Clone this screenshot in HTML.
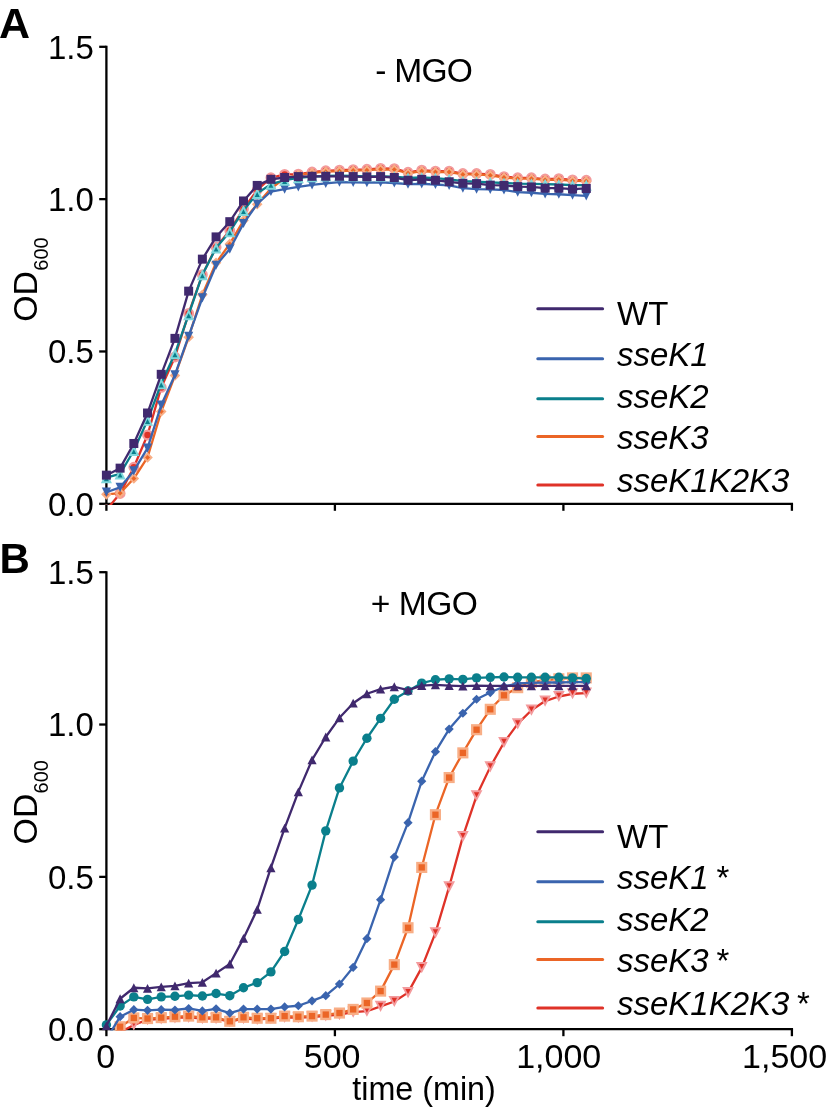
<!DOCTYPE html><html><head><meta charset="utf-8"><style>html,body{margin:0;padding:0;background:#fff;}svg{display:block;will-change:transform;}</style></head><body><svg width="827" height="1112" viewBox="0 0 827 1112">
<rect width="827" height="1112" fill="#fff"/>
<defs><clipPath id="ca"><rect x="0" y="0" width="827" height="505.0"/></clipPath><clipPath id="cb"><rect x="0" y="530" width="827" height="500.4000000000001"/></clipPath></defs>
<text x="-1" y="38.2" font-size="43" font-weight="bold" font-family="'Liberation Sans', sans-serif">A</text>
<text x="-0.5" y="573" font-size="42" font-weight="bold" font-family="'Liberation Sans', sans-serif">B</text>
<text x="375.3" y="82.4" font-size="33.6" letter-spacing="-0.8" font-family="'Liberation Sans', sans-serif">- MGO</text>
<text x="370.8" y="615.1" font-size="33.6" letter-spacing="-0.5" font-family="'Liberation Sans', sans-serif">+ MGO</text>
<path d="M106.4 46.8 V503.8 H791.9" fill="none" stroke="#000" stroke-width="2.3" stroke-linecap="square"/>
<line x1="99.2" y1="503.80" x2="106.4" y2="503.80" stroke="#000" stroke-width="2.3"/>
<text x="93.8" y="515.70" font-size="33" text-anchor="end" font-family="'Liberation Sans', sans-serif">0.0</text>
<line x1="99.2" y1="351.47" x2="106.4" y2="351.47" stroke="#000" stroke-width="2.3"/>
<text x="93.8" y="363.37" font-size="33" text-anchor="end" font-family="'Liberation Sans', sans-serif">0.5</text>
<line x1="99.2" y1="199.13" x2="106.4" y2="199.13" stroke="#000" stroke-width="2.3"/>
<text x="93.8" y="211.03" font-size="33" text-anchor="end" font-family="'Liberation Sans', sans-serif">1.0</text>
<line x1="99.2" y1="46.80" x2="106.4" y2="46.80" stroke="#000" stroke-width="2.3"/>
<text x="93.8" y="58.70" font-size="33" text-anchor="end" font-family="'Liberation Sans', sans-serif">1.5</text>
<line x1="106.40" y1="503.8" x2="106.40" y2="510.8" stroke="#000" stroke-width="2.3"/>
<line x1="334.90" y1="503.8" x2="334.90" y2="510.8" stroke="#000" stroke-width="2.3"/>
<line x1="563.40" y1="503.8" x2="563.40" y2="510.8" stroke="#000" stroke-width="2.3"/>
<line x1="791.90" y1="503.8" x2="791.90" y2="510.8" stroke="#000" stroke-width="2.3"/>
<path d="M106.4 572.3 V1029.2 H791.9" fill="none" stroke="#000" stroke-width="2.3" stroke-linecap="square"/>
<line x1="99.2" y1="1029.20" x2="106.4" y2="1029.20" stroke="#000" stroke-width="2.3"/>
<text x="93.8" y="1041.10" font-size="33" text-anchor="end" font-family="'Liberation Sans', sans-serif">0.0</text>
<line x1="99.2" y1="876.87" x2="106.4" y2="876.87" stroke="#000" stroke-width="2.3"/>
<text x="93.8" y="888.77" font-size="33" text-anchor="end" font-family="'Liberation Sans', sans-serif">0.5</text>
<line x1="99.2" y1="724.53" x2="106.4" y2="724.53" stroke="#000" stroke-width="2.3"/>
<text x="93.8" y="736.43" font-size="33" text-anchor="end" font-family="'Liberation Sans', sans-serif">1.0</text>
<line x1="99.2" y1="572.20" x2="106.4" y2="572.20" stroke="#000" stroke-width="2.3"/>
<text x="93.8" y="584.10" font-size="33" text-anchor="end" font-family="'Liberation Sans', sans-serif">1.5</text>
<line x1="106.40" y1="1029.2" x2="106.40" y2="1036.2" stroke="#000" stroke-width="2.3"/>
<line x1="334.90" y1="1029.2" x2="334.90" y2="1036.2" stroke="#000" stroke-width="2.3"/>
<line x1="563.40" y1="1029.2" x2="563.40" y2="1036.2" stroke="#000" stroke-width="2.3"/>
<line x1="791.90" y1="1029.2" x2="791.90" y2="1036.2" stroke="#000" stroke-width="2.3"/>
<text transform="translate(37.0,321.70) rotate(-90)" font-size="33.8" font-family="'Liberation Sans', sans-serif">OD<tspan font-size="20" dy="11.3" dx="0.3">600</tspan></text>
<text transform="translate(37.0,844.40) rotate(-90)" font-size="33.8" font-family="'Liberation Sans', sans-serif">OD<tspan font-size="20" dy="11.3" dx="0.3">600</tspan></text>
<text x="105.70" y="1068" font-size="34" text-anchor="middle" font-family="'Liberation Sans', sans-serif">0</text>
<text x="332.10" y="1068" font-size="34" text-anchor="middle" font-family="'Liberation Sans', sans-serif">500</text>
<text x="558.70" y="1068" font-size="34" text-anchor="middle" font-family="'Liberation Sans', sans-serif">1,000</text>
<text x="784.60" y="1068" font-size="34" text-anchor="middle" font-family="'Liberation Sans', sans-serif">1,500</text>
<text x="352.3" y="1100.4" font-size="32.3" font-family="'Liberation Sans', sans-serif">time (min)</text>
<line x1="537.8" y1="308.70" x2="602.6" y2="308.70" stroke="#40296E" stroke-width="3" stroke-linecap="round"/>
<text x="617" y="324.50" font-size="33" font-family="'Liberation Sans', sans-serif"><tspan>WT</tspan></text>
<line x1="537.8" y1="358.80" x2="602.6" y2="358.80" stroke="#3A64AE" stroke-width="3" stroke-linecap="round"/>
<text x="617" y="365.80" font-size="33" font-family="'Liberation Sans', sans-serif"><tspan font-style="italic">sseK1</tspan></text>
<line x1="537.8" y1="398.70" x2="602.6" y2="398.70" stroke="#0A7F8C" stroke-width="3" stroke-linecap="round"/>
<text x="617" y="407.60" font-size="33" font-family="'Liberation Sans', sans-serif"><tspan font-style="italic">sseK2</tspan></text>
<line x1="537.8" y1="436.50" x2="602.6" y2="436.50" stroke="#EB6526" stroke-width="3" stroke-linecap="round"/>
<text x="617" y="448.60" font-size="33" font-family="'Liberation Sans', sans-serif"><tspan font-style="italic">sseK3</tspan></text>
<line x1="537.8" y1="485.00" x2="602.6" y2="485.00" stroke="#DF3228" stroke-width="3" stroke-linecap="round"/>
<text x="617" y="491.60" font-size="33" font-family="'Liberation Sans', sans-serif"><tspan font-style="italic">sseK1K2K3</tspan></text>
<line x1="537.8" y1="831.70" x2="602.6" y2="831.70" stroke="#40296E" stroke-width="3" stroke-linecap="round"/>
<text x="617" y="847.50" font-size="33" font-family="'Liberation Sans', sans-serif"><tspan>WT</tspan></text>
<line x1="537.8" y1="881.80" x2="602.6" y2="881.80" stroke="#3A64AE" stroke-width="3" stroke-linecap="round"/>
<text x="617" y="888.80" font-size="33" font-family="'Liberation Sans', sans-serif"><tspan font-style="italic">sseK1</tspan><tspan font-style="normal" dx="-1.5"> *</tspan></text>
<line x1="537.8" y1="921.70" x2="602.6" y2="921.70" stroke="#0A7F8C" stroke-width="3" stroke-linecap="round"/>
<text x="617" y="930.60" font-size="33" font-family="'Liberation Sans', sans-serif"><tspan font-style="italic">sseK2</tspan></text>
<line x1="537.8" y1="959.50" x2="602.6" y2="959.50" stroke="#EB6526" stroke-width="3" stroke-linecap="round"/>
<text x="617" y="971.60" font-size="33" font-family="'Liberation Sans', sans-serif"><tspan font-style="italic">sseK3</tspan><tspan font-style="normal" dx="-1.5"> *</tspan></text>
<line x1="537.8" y1="1008.00" x2="602.6" y2="1008.00" stroke="#DF3228" stroke-width="3" stroke-linecap="round"/>
<text x="617" y="1014.60" font-size="33" font-family="'Liberation Sans', sans-serif"><tspan font-style="italic">sseK1K2K3</tspan><tspan font-style="normal" dx="-1.5"> *</tspan></text>
<g clip-path="url(#ca)">
<polyline points="106.40,509.89 120.11,493.44 133.82,467.24 147.53,434.95 161.24,387.42 174.95,356.95 188.66,313.38 202.37,274.69 216.08,247.27 229.79,230.51 243.50,208.88 257.21,189.99 270.92,177.81 284.63,174.46 298.34,174.15 312.05,172.02 325.76,170.80 339.47,170.19 353.18,169.58 366.89,169.28 380.60,168.36 394.31,168.67 408.02,172.32 421.73,170.19 435.44,171.10 449.15,171.10 462.86,173.54 476.57,173.54 490.28,174.46 503.99,176.59 517.70,177.81 531.41,177.81 545.12,179.03 558.83,178.72 572.54,179.94 586.25,180.24" fill="none" stroke="#DF3228" stroke-width="2.3" stroke-linejoin="round"/>
<circle cx="106.40" cy="509.89" r="4.35" fill="#DF3228" stroke="#F39A9C" stroke-width="2.2"/>
<circle cx="120.11" cy="493.44" r="4.35" fill="#DF3228" stroke="#F39A9C" stroke-width="2.2"/>
<circle cx="133.82" cy="467.24" r="4.35" fill="#DF3228" stroke="#F39A9C" stroke-width="2.2"/>
<circle cx="147.53" cy="434.95" r="4.35" fill="#DF3228" stroke="#F39A9C" stroke-width="2.2"/>
<circle cx="161.24" cy="387.42" r="4.35" fill="#DF3228" stroke="#F39A9C" stroke-width="2.2"/>
<circle cx="174.95" cy="356.95" r="4.35" fill="#DF3228" stroke="#F39A9C" stroke-width="2.2"/>
<circle cx="188.66" cy="313.38" r="4.35" fill="#DF3228" stroke="#F39A9C" stroke-width="2.2"/>
<circle cx="202.37" cy="274.69" r="4.35" fill="#DF3228" stroke="#F39A9C" stroke-width="2.2"/>
<circle cx="216.08" cy="247.27" r="4.35" fill="#DF3228" stroke="#F39A9C" stroke-width="2.2"/>
<circle cx="229.79" cy="230.51" r="4.35" fill="#DF3228" stroke="#F39A9C" stroke-width="2.2"/>
<circle cx="243.50" cy="208.88" r="4.35" fill="#DF3228" stroke="#F39A9C" stroke-width="2.2"/>
<circle cx="257.21" cy="189.99" r="4.35" fill="#DF3228" stroke="#F39A9C" stroke-width="2.2"/>
<circle cx="270.92" cy="177.81" r="4.35" fill="#DF3228" stroke="#F39A9C" stroke-width="2.2"/>
<circle cx="284.63" cy="174.46" r="4.35" fill="#DF3228" stroke="#F39A9C" stroke-width="2.2"/>
<circle cx="298.34" cy="174.15" r="4.35" fill="#DF3228" stroke="#F39A9C" stroke-width="2.2"/>
<circle cx="312.05" cy="172.02" r="4.35" fill="#DF3228" stroke="#F39A9C" stroke-width="2.2"/>
<circle cx="325.76" cy="170.80" r="4.35" fill="#DF3228" stroke="#F39A9C" stroke-width="2.2"/>
<circle cx="339.47" cy="170.19" r="4.35" fill="#DF3228" stroke="#F39A9C" stroke-width="2.2"/>
<circle cx="353.18" cy="169.58" r="4.35" fill="#DF3228" stroke="#F39A9C" stroke-width="2.2"/>
<circle cx="366.89" cy="169.28" r="4.35" fill="#DF3228" stroke="#F39A9C" stroke-width="2.2"/>
<circle cx="380.60" cy="168.36" r="4.35" fill="#DF3228" stroke="#F39A9C" stroke-width="2.2"/>
<circle cx="394.31" cy="168.67" r="4.35" fill="#DF3228" stroke="#F39A9C" stroke-width="2.2"/>
<circle cx="408.02" cy="172.32" r="4.35" fill="#DF3228" stroke="#F39A9C" stroke-width="2.2"/>
<circle cx="421.73" cy="170.19" r="4.35" fill="#DF3228" stroke="#F39A9C" stroke-width="2.2"/>
<circle cx="435.44" cy="171.10" r="4.35" fill="#DF3228" stroke="#F39A9C" stroke-width="2.2"/>
<circle cx="449.15" cy="171.10" r="4.35" fill="#DF3228" stroke="#F39A9C" stroke-width="2.2"/>
<circle cx="462.86" cy="173.54" r="4.35" fill="#DF3228" stroke="#F39A9C" stroke-width="2.2"/>
<circle cx="476.57" cy="173.54" r="4.35" fill="#DF3228" stroke="#F39A9C" stroke-width="2.2"/>
<circle cx="490.28" cy="174.46" r="4.35" fill="#DF3228" stroke="#F39A9C" stroke-width="2.2"/>
<circle cx="503.99" cy="176.59" r="4.35" fill="#DF3228" stroke="#F39A9C" stroke-width="2.2"/>
<circle cx="517.70" cy="177.81" r="4.35" fill="#DF3228" stroke="#F39A9C" stroke-width="2.2"/>
<circle cx="531.41" cy="177.81" r="4.35" fill="#DF3228" stroke="#F39A9C" stroke-width="2.2"/>
<circle cx="545.12" cy="179.03" r="4.35" fill="#DF3228" stroke="#F39A9C" stroke-width="2.2"/>
<circle cx="558.83" cy="178.72" r="4.35" fill="#DF3228" stroke="#F39A9C" stroke-width="2.2"/>
<circle cx="572.54" cy="179.94" r="4.35" fill="#DF3228" stroke="#F39A9C" stroke-width="2.2"/>
<circle cx="586.25" cy="180.24" r="4.35" fill="#DF3228" stroke="#F39A9C" stroke-width="2.2"/>
<polyline points="106.40,494.36 120.11,493.14 133.82,478.51 147.53,457.49 161.24,411.49 174.95,375.54 188.66,337.15 202.37,294.80 216.08,262.81 229.79,243.92 243.50,220.46 257.21,204.31 270.92,188.47 284.63,178.42 298.34,175.06 312.05,172.93 325.76,171.71 339.47,171.10 353.18,170.49 366.89,170.19 380.60,169.28 394.31,169.58 408.02,173.24 421.73,171.10 435.44,172.02 449.15,172.02 462.86,174.46 476.57,174.46 490.28,175.37 503.99,177.50 517.70,178.72 531.41,178.72 545.12,179.94 558.83,179.63 572.54,180.85 586.25,181.16" fill="none" stroke="#EB6526" stroke-width="2.3" stroke-linejoin="round"/>
<path d="M106.40 490.46L110.30 494.36L106.40 498.26L102.50 494.36Z" fill="#EB6526" stroke="#F8AE86" stroke-width="2.0"/>
<path d="M120.11 489.24L124.01 493.14L120.11 497.04L116.21 493.14Z" fill="#EB6526" stroke="#F8AE86" stroke-width="2.0"/>
<path d="M133.82 474.61L137.72 478.51L133.82 482.41L129.92 478.51Z" fill="#EB6526" stroke="#F8AE86" stroke-width="2.0"/>
<path d="M147.53 453.59L151.43 457.49L147.53 461.39L143.63 457.49Z" fill="#EB6526" stroke="#F8AE86" stroke-width="2.0"/>
<path d="M161.24 407.59L165.14 411.49L161.24 415.39L157.34 411.49Z" fill="#EB6526" stroke="#F8AE86" stroke-width="2.0"/>
<path d="M174.95 371.64L178.85 375.54L174.95 379.44L171.05 375.54Z" fill="#EB6526" stroke="#F8AE86" stroke-width="2.0"/>
<path d="M188.66 333.25L192.56 337.15L188.66 341.05L184.76 337.15Z" fill="#EB6526" stroke="#F8AE86" stroke-width="2.0"/>
<path d="M202.37 290.90L206.27 294.80L202.37 298.70L198.47 294.80Z" fill="#EB6526" stroke="#F8AE86" stroke-width="2.0"/>
<path d="M216.08 258.91L219.98 262.81L216.08 266.71L212.18 262.81Z" fill="#EB6526" stroke="#F8AE86" stroke-width="2.0"/>
<path d="M229.79 240.02L233.69 243.92L229.79 247.82L225.89 243.92Z" fill="#EB6526" stroke="#F8AE86" stroke-width="2.0"/>
<path d="M243.50 216.56L247.40 220.46L243.50 224.36L239.60 220.46Z" fill="#EB6526" stroke="#F8AE86" stroke-width="2.0"/>
<path d="M257.21 200.41L261.11 204.31L257.21 208.21L253.31 204.31Z" fill="#EB6526" stroke="#F8AE86" stroke-width="2.0"/>
<path d="M270.92 184.57L274.82 188.47L270.92 192.37L267.02 188.47Z" fill="#EB6526" stroke="#F8AE86" stroke-width="2.0"/>
<path d="M284.63 174.52L288.53 178.42L284.63 182.32L280.73 178.42Z" fill="#EB6526" stroke="#F8AE86" stroke-width="2.0"/>
<path d="M298.34 171.16L302.24 175.06L298.34 178.96L294.44 175.06Z" fill="#EB6526" stroke="#F8AE86" stroke-width="2.0"/>
<path d="M312.05 169.03L315.95 172.93L312.05 176.83L308.15 172.93Z" fill="#EB6526" stroke="#F8AE86" stroke-width="2.0"/>
<path d="M325.76 167.81L329.66 171.71L325.76 175.61L321.86 171.71Z" fill="#EB6526" stroke="#F8AE86" stroke-width="2.0"/>
<path d="M339.47 167.20L343.37 171.10L339.47 175.00L335.57 171.10Z" fill="#EB6526" stroke="#F8AE86" stroke-width="2.0"/>
<path d="M353.18 166.59L357.08 170.49L353.18 174.39L349.28 170.49Z" fill="#EB6526" stroke="#F8AE86" stroke-width="2.0"/>
<path d="M366.89 166.29L370.79 170.19L366.89 174.09L362.99 170.19Z" fill="#EB6526" stroke="#F8AE86" stroke-width="2.0"/>
<path d="M380.60 165.38L384.50 169.28L380.60 173.18L376.70 169.28Z" fill="#EB6526" stroke="#F8AE86" stroke-width="2.0"/>
<path d="M394.31 165.68L398.21 169.58L394.31 173.48L390.41 169.58Z" fill="#EB6526" stroke="#F8AE86" stroke-width="2.0"/>
<path d="M408.02 169.34L411.92 173.24L408.02 177.14L404.12 173.24Z" fill="#EB6526" stroke="#F8AE86" stroke-width="2.0"/>
<path d="M421.73 167.20L425.63 171.10L421.73 175.00L417.83 171.10Z" fill="#EB6526" stroke="#F8AE86" stroke-width="2.0"/>
<path d="M435.44 168.12L439.34 172.02L435.44 175.92L431.54 172.02Z" fill="#EB6526" stroke="#F8AE86" stroke-width="2.0"/>
<path d="M449.15 168.12L453.05 172.02L449.15 175.92L445.25 172.02Z" fill="#EB6526" stroke="#F8AE86" stroke-width="2.0"/>
<path d="M462.86 170.56L466.76 174.46L462.86 178.36L458.96 174.46Z" fill="#EB6526" stroke="#F8AE86" stroke-width="2.0"/>
<path d="M476.57 170.56L480.47 174.46L476.57 178.36L472.67 174.46Z" fill="#EB6526" stroke="#F8AE86" stroke-width="2.0"/>
<path d="M490.28 171.47L494.18 175.37L490.28 179.27L486.38 175.37Z" fill="#EB6526" stroke="#F8AE86" stroke-width="2.0"/>
<path d="M503.99 173.60L507.89 177.50L503.99 181.40L500.09 177.50Z" fill="#EB6526" stroke="#F8AE86" stroke-width="2.0"/>
<path d="M517.70 174.82L521.60 178.72L517.70 182.62L513.80 178.72Z" fill="#EB6526" stroke="#F8AE86" stroke-width="2.0"/>
<path d="M531.41 174.82L535.31 178.72L531.41 182.62L527.51 178.72Z" fill="#EB6526" stroke="#F8AE86" stroke-width="2.0"/>
<path d="M545.12 176.04L549.02 179.94L545.12 183.84L541.22 179.94Z" fill="#EB6526" stroke="#F8AE86" stroke-width="2.0"/>
<path d="M558.83 175.73L562.73 179.63L558.83 183.53L554.93 179.63Z" fill="#EB6526" stroke="#F8AE86" stroke-width="2.0"/>
<path d="M572.54 176.95L576.44 180.85L572.54 184.75L568.64 180.85Z" fill="#EB6526" stroke="#F8AE86" stroke-width="2.0"/>
<path d="M586.25 177.26L590.15 181.16L586.25 185.06L582.35 181.16Z" fill="#EB6526" stroke="#F8AE86" stroke-width="2.0"/>
<polyline points="106.40,492.22 120.11,487.35 133.82,470.90 147.53,448.05 161.24,405.09 174.95,374.93 188.66,336.23 202.37,297.85 216.08,265.25 229.79,249.10 243.50,223.51 257.21,204.01 270.92,191.52 284.63,189.08 298.34,186.95 312.05,184.81 325.76,183.29 339.47,182.07 353.18,182.38 366.89,182.68 380.60,182.38 394.31,182.99 408.02,184.20 421.73,183.90 435.44,184.51 449.15,185.42 462.86,188.17 476.57,189.08 490.28,189.38 503.99,189.99 517.70,192.13 531.41,192.74 545.12,193.95 558.83,194.26 572.54,195.17 586.25,195.78" fill="none" stroke="#3A64AE" stroke-width="2.3" stroke-linejoin="round"/>
<path d="M106.40 496.82L111.00 487.62L101.80 487.62Z" fill="#3A64AE"/>
<path d="M120.11 491.95L124.71 482.75L115.51 482.75Z" fill="#3A64AE"/>
<path d="M133.82 475.50L138.42 466.30L129.22 466.30Z" fill="#3A64AE"/>
<path d="M147.53 452.65L152.13 443.45L142.93 443.45Z" fill="#3A64AE"/>
<path d="M161.24 409.69L165.84 400.49L156.64 400.49Z" fill="#3A64AE"/>
<path d="M174.95 379.53L179.55 370.33L170.35 370.33Z" fill="#3A64AE"/>
<path d="M188.66 340.83L193.26 331.63L184.06 331.63Z" fill="#3A64AE"/>
<path d="M202.37 302.45L206.97 293.25L197.77 293.25Z" fill="#3A64AE"/>
<path d="M216.08 269.85L220.68 260.65L211.48 260.65Z" fill="#3A64AE"/>
<path d="M229.79 253.70L234.39 244.50L225.19 244.50Z" fill="#3A64AE"/>
<path d="M243.50 228.11L248.10 218.91L238.90 218.91Z" fill="#3A64AE"/>
<path d="M257.21 208.61L261.81 199.41L252.61 199.41Z" fill="#3A64AE"/>
<path d="M270.92 196.12L275.52 186.92L266.32 186.92Z" fill="#3A64AE"/>
<path d="M284.63 193.68L289.23 184.48L280.03 184.48Z" fill="#3A64AE"/>
<path d="M298.34 191.55L302.94 182.35L293.74 182.35Z" fill="#3A64AE"/>
<path d="M312.05 189.41L316.65 180.21L307.45 180.21Z" fill="#3A64AE"/>
<path d="M325.76 187.89L330.36 178.69L321.16 178.69Z" fill="#3A64AE"/>
<path d="M339.47 186.67L344.07 177.47L334.87 177.47Z" fill="#3A64AE"/>
<path d="M353.18 186.98L357.78 177.78L348.58 177.78Z" fill="#3A64AE"/>
<path d="M366.89 187.28L371.49 178.08L362.29 178.08Z" fill="#3A64AE"/>
<path d="M380.60 186.98L385.20 177.78L376.00 177.78Z" fill="#3A64AE"/>
<path d="M394.31 187.59L398.91 178.39L389.71 178.39Z" fill="#3A64AE"/>
<path d="M408.02 188.80L412.62 179.60L403.42 179.60Z" fill="#3A64AE"/>
<path d="M421.73 188.50L426.33 179.30L417.13 179.30Z" fill="#3A64AE"/>
<path d="M435.44 189.11L440.04 179.91L430.84 179.91Z" fill="#3A64AE"/>
<path d="M449.15 190.02L453.75 180.82L444.55 180.82Z" fill="#3A64AE"/>
<path d="M462.86 192.77L467.46 183.57L458.26 183.57Z" fill="#3A64AE"/>
<path d="M476.57 193.68L481.17 184.48L471.97 184.48Z" fill="#3A64AE"/>
<path d="M490.28 193.98L494.88 184.78L485.68 184.78Z" fill="#3A64AE"/>
<path d="M503.99 194.59L508.59 185.39L499.39 185.39Z" fill="#3A64AE"/>
<path d="M517.70 196.73L522.30 187.53L513.10 187.53Z" fill="#3A64AE"/>
<path d="M531.41 197.34L536.01 188.14L526.81 188.14Z" fill="#3A64AE"/>
<path d="M545.12 198.55L549.72 189.35L540.52 189.35Z" fill="#3A64AE"/>
<path d="M558.83 198.86L563.43 189.66L554.23 189.66Z" fill="#3A64AE"/>
<path d="M572.54 199.77L577.14 190.57L567.94 190.57Z" fill="#3A64AE"/>
<path d="M586.25 200.38L590.85 191.18L581.65 191.18Z" fill="#3A64AE"/>
<polyline points="106.40,477.60 120.11,473.94 133.82,450.48 147.53,420.32 161.24,383.76 174.95,353.60 188.66,314.60 202.37,274.69 216.08,247.88 229.79,231.73 243.50,210.41 257.21,193.34 270.92,184.20 284.63,180.24 298.34,177.81 312.05,176.59 325.76,175.98 339.47,175.67 353.18,175.98 366.89,176.28 380.60,176.28 394.31,176.59 408.02,177.81 421.73,177.50 435.44,178.11 449.15,179.33 462.86,181.16 476.57,181.77 490.28,182.38 503.99,182.99 517.70,183.60 531.41,183.90 545.12,184.20 558.83,184.51 572.54,185.12 586.25,185.12" fill="none" stroke="#0A7F8C" stroke-width="2.3" stroke-linejoin="round"/>
<path d="M106.40 474.19L110.40 482.19L102.40 482.19Z" fill="#0A7F8C" stroke="#7FD8DC" stroke-width="1.9"/>
<path d="M120.11 470.53L124.11 478.53L116.11 478.53Z" fill="#0A7F8C" stroke="#7FD8DC" stroke-width="1.9"/>
<path d="M133.82 447.07L137.82 455.07L129.82 455.07Z" fill="#0A7F8C" stroke="#7FD8DC" stroke-width="1.9"/>
<path d="M147.53 416.91L151.53 424.91L143.53 424.91Z" fill="#0A7F8C" stroke="#7FD8DC" stroke-width="1.9"/>
<path d="M161.24 380.35L165.24 388.35L157.24 388.35Z" fill="#0A7F8C" stroke="#7FD8DC" stroke-width="1.9"/>
<path d="M174.95 350.19L178.95 358.19L170.95 358.19Z" fill="#0A7F8C" stroke="#7FD8DC" stroke-width="1.9"/>
<path d="M188.66 311.19L192.66 319.19L184.66 319.19Z" fill="#0A7F8C" stroke="#7FD8DC" stroke-width="1.9"/>
<path d="M202.37 271.28L206.37 279.28L198.37 279.28Z" fill="#0A7F8C" stroke="#7FD8DC" stroke-width="1.9"/>
<path d="M216.08 244.47L220.08 252.47L212.08 252.47Z" fill="#0A7F8C" stroke="#7FD8DC" stroke-width="1.9"/>
<path d="M229.79 228.32L233.79 236.32L225.79 236.32Z" fill="#0A7F8C" stroke="#7FD8DC" stroke-width="1.9"/>
<path d="M243.50 206.99L247.50 214.99L239.50 214.99Z" fill="#0A7F8C" stroke="#7FD8DC" stroke-width="1.9"/>
<path d="M257.21 189.93L261.21 197.93L253.21 197.93Z" fill="#0A7F8C" stroke="#7FD8DC" stroke-width="1.9"/>
<path d="M270.92 180.79L274.92 188.79L266.92 188.79Z" fill="#0A7F8C" stroke="#7FD8DC" stroke-width="1.9"/>
<path d="M284.63 176.83L288.63 184.83L280.63 184.83Z" fill="#0A7F8C" stroke="#7FD8DC" stroke-width="1.9"/>
<path d="M298.34 174.39L302.34 182.39L294.34 182.39Z" fill="#0A7F8C" stroke="#7FD8DC" stroke-width="1.9"/>
<path d="M312.05 173.18L316.05 181.18L308.05 181.18Z" fill="#0A7F8C" stroke="#7FD8DC" stroke-width="1.9"/>
<path d="M325.76 172.57L329.76 180.57L321.76 180.57Z" fill="#0A7F8C" stroke="#7FD8DC" stroke-width="1.9"/>
<path d="M339.47 172.26L343.47 180.26L335.47 180.26Z" fill="#0A7F8C" stroke="#7FD8DC" stroke-width="1.9"/>
<path d="M353.18 172.57L357.18 180.57L349.18 180.57Z" fill="#0A7F8C" stroke="#7FD8DC" stroke-width="1.9"/>
<path d="M366.89 172.87L370.89 180.87L362.89 180.87Z" fill="#0A7F8C" stroke="#7FD8DC" stroke-width="1.9"/>
<path d="M380.60 172.87L384.60 180.87L376.60 180.87Z" fill="#0A7F8C" stroke="#7FD8DC" stroke-width="1.9"/>
<path d="M394.31 173.18L398.31 181.18L390.31 181.18Z" fill="#0A7F8C" stroke="#7FD8DC" stroke-width="1.9"/>
<path d="M408.02 174.39L412.02 182.39L404.02 182.39Z" fill="#0A7F8C" stroke="#7FD8DC" stroke-width="1.9"/>
<path d="M421.73 174.09L425.73 182.09L417.73 182.09Z" fill="#0A7F8C" stroke="#7FD8DC" stroke-width="1.9"/>
<path d="M435.44 174.70L439.44 182.70L431.44 182.70Z" fill="#0A7F8C" stroke="#7FD8DC" stroke-width="1.9"/>
<path d="M449.15 175.92L453.15 183.92L445.15 183.92Z" fill="#0A7F8C" stroke="#7FD8DC" stroke-width="1.9"/>
<path d="M462.86 177.75L466.86 185.75L458.86 185.75Z" fill="#0A7F8C" stroke="#7FD8DC" stroke-width="1.9"/>
<path d="M476.57 178.35L480.57 186.35L472.57 186.35Z" fill="#0A7F8C" stroke="#7FD8DC" stroke-width="1.9"/>
<path d="M490.28 178.96L494.28 186.96L486.28 186.96Z" fill="#0A7F8C" stroke="#7FD8DC" stroke-width="1.9"/>
<path d="M503.99 179.57L507.99 187.57L499.99 187.57Z" fill="#0A7F8C" stroke="#7FD8DC" stroke-width="1.9"/>
<path d="M517.70 180.18L521.70 188.18L513.70 188.18Z" fill="#0A7F8C" stroke="#7FD8DC" stroke-width="1.9"/>
<path d="M531.41 180.49L535.41 188.49L527.41 188.49Z" fill="#0A7F8C" stroke="#7FD8DC" stroke-width="1.9"/>
<path d="M545.12 180.79L549.12 188.79L541.12 188.79Z" fill="#0A7F8C" stroke="#7FD8DC" stroke-width="1.9"/>
<path d="M558.83 181.10L562.83 189.10L554.83 189.10Z" fill="#0A7F8C" stroke="#7FD8DC" stroke-width="1.9"/>
<path d="M572.54 181.71L576.54 189.71L568.54 189.71Z" fill="#0A7F8C" stroke="#7FD8DC" stroke-width="1.9"/>
<path d="M586.25 181.71L590.25 189.71L582.25 189.71Z" fill="#0A7F8C" stroke="#7FD8DC" stroke-width="1.9"/>
<polyline points="106.40,475.16 120.11,468.15 133.82,443.48 147.53,413.01 161.24,374.32 174.95,338.37 188.66,291.14 202.37,259.15 216.08,236.91 229.79,221.68 243.50,200.96 257.21,185.42 270.92,179.33 284.63,177.50 298.34,176.59 312.05,176.28 325.76,176.28 339.47,176.28 353.18,176.59 366.89,176.89 380.60,176.59 394.31,177.50 408.02,180.24 421.73,179.33 435.44,180.24 449.15,181.77 462.86,183.29 476.57,183.60 490.28,185.12 503.99,185.42 517.70,186.64 531.41,186.95 545.12,188.17 558.83,188.17 572.54,189.08 586.25,188.47" fill="none" stroke="#40296E" stroke-width="2.3" stroke-linejoin="round"/>
<rect x="101.90" y="470.66" width="9.00" height="9.00" fill="#40296E"/>
<rect x="115.61" y="463.65" width="9.00" height="9.00" fill="#40296E"/>
<rect x="129.32" y="438.98" width="9.00" height="9.00" fill="#40296E"/>
<rect x="143.03" y="408.51" width="9.00" height="9.00" fill="#40296E"/>
<rect x="156.74" y="369.82" width="9.00" height="9.00" fill="#40296E"/>
<rect x="170.45" y="333.87" width="9.00" height="9.00" fill="#40296E"/>
<rect x="184.16" y="286.64" width="9.00" height="9.00" fill="#40296E"/>
<rect x="197.87" y="254.65" width="9.00" height="9.00" fill="#40296E"/>
<rect x="211.58" y="232.41" width="9.00" height="9.00" fill="#40296E"/>
<rect x="225.29" y="217.18" width="9.00" height="9.00" fill="#40296E"/>
<rect x="239.00" y="196.46" width="9.00" height="9.00" fill="#40296E"/>
<rect x="252.71" y="180.92" width="9.00" height="9.00" fill="#40296E"/>
<rect x="266.42" y="174.83" width="9.00" height="9.00" fill="#40296E"/>
<rect x="280.13" y="173.00" width="9.00" height="9.00" fill="#40296E"/>
<rect x="293.84" y="172.09" width="9.00" height="9.00" fill="#40296E"/>
<rect x="307.55" y="171.78" width="9.00" height="9.00" fill="#40296E"/>
<rect x="321.26" y="171.78" width="9.00" height="9.00" fill="#40296E"/>
<rect x="334.97" y="171.78" width="9.00" height="9.00" fill="#40296E"/>
<rect x="348.68" y="172.09" width="9.00" height="9.00" fill="#40296E"/>
<rect x="362.39" y="172.39" width="9.00" height="9.00" fill="#40296E"/>
<rect x="376.10" y="172.09" width="9.00" height="9.00" fill="#40296E"/>
<rect x="389.81" y="173.00" width="9.00" height="9.00" fill="#40296E"/>
<rect x="403.52" y="175.74" width="9.00" height="9.00" fill="#40296E"/>
<rect x="417.23" y="174.83" width="9.00" height="9.00" fill="#40296E"/>
<rect x="430.94" y="175.74" width="9.00" height="9.00" fill="#40296E"/>
<rect x="444.65" y="177.27" width="9.00" height="9.00" fill="#40296E"/>
<rect x="458.36" y="178.79" width="9.00" height="9.00" fill="#40296E"/>
<rect x="472.07" y="179.10" width="9.00" height="9.00" fill="#40296E"/>
<rect x="485.78" y="180.62" width="9.00" height="9.00" fill="#40296E"/>
<rect x="499.49" y="180.92" width="9.00" height="9.00" fill="#40296E"/>
<rect x="513.20" y="182.14" width="9.00" height="9.00" fill="#40296E"/>
<rect x="526.91" y="182.45" width="9.00" height="9.00" fill="#40296E"/>
<rect x="540.62" y="183.67" width="9.00" height="9.00" fill="#40296E"/>
<rect x="554.33" y="183.67" width="9.00" height="9.00" fill="#40296E"/>
<rect x="568.04" y="184.58" width="9.00" height="9.00" fill="#40296E"/>
<rect x="581.75" y="183.97" width="9.00" height="9.00" fill="#40296E"/>
</g>
<g clip-path="url(#cb)">
<polyline points="106.40,1047.48 120.11,1032.25 133.82,1024.93 147.53,1019.76 161.24,1018.84 174.95,1017.93 188.66,1017.32 202.37,1018.54 216.08,1018.54 229.79,1021.58 243.50,1018.54 257.21,1019.45 270.92,1018.54 284.63,1017.32 298.34,1017.62 312.05,1017.01 325.76,1015.79 339.47,1014.58 353.18,1012.14 366.89,1011.22 380.60,1006.35 394.31,1001.48 408.02,992.64 421.73,967.66 435.44,932.93 449.15,886.92 462.86,836.65 476.57,795.83 490.28,766.88 503.99,742.51 517.70,723.92 531.41,710.21 545.12,701.07 558.83,696.50 572.54,693.76 586.25,693.15" fill="none" stroke="#DF3228" stroke-width="2.3" stroke-linejoin="round"/>
<path d="M106.40 1051.03L110.70 1042.83L102.10 1042.83Z" fill="#DF3228" stroke="#F39A9C" stroke-width="1.9"/>
<path d="M120.11 1035.80L124.41 1027.60L115.81 1027.60Z" fill="#DF3228" stroke="#F39A9C" stroke-width="1.9"/>
<path d="M133.82 1028.49L138.12 1020.29L129.52 1020.29Z" fill="#DF3228" stroke="#F39A9C" stroke-width="1.9"/>
<path d="M147.53 1023.31L151.83 1015.11L143.23 1015.11Z" fill="#DF3228" stroke="#F39A9C" stroke-width="1.9"/>
<path d="M161.24 1022.39L165.54 1014.19L156.94 1014.19Z" fill="#DF3228" stroke="#F39A9C" stroke-width="1.9"/>
<path d="M174.95 1021.48L179.25 1013.28L170.65 1013.28Z" fill="#DF3228" stroke="#F39A9C" stroke-width="1.9"/>
<path d="M188.66 1020.87L192.96 1012.67L184.36 1012.67Z" fill="#DF3228" stroke="#F39A9C" stroke-width="1.9"/>
<path d="M202.37 1022.09L206.67 1013.89L198.07 1013.89Z" fill="#DF3228" stroke="#F39A9C" stroke-width="1.9"/>
<path d="M216.08 1022.09L220.38 1013.89L211.78 1013.89Z" fill="#DF3228" stroke="#F39A9C" stroke-width="1.9"/>
<path d="M229.79 1025.14L234.09 1016.94L225.49 1016.94Z" fill="#DF3228" stroke="#F39A9C" stroke-width="1.9"/>
<path d="M243.50 1022.09L247.80 1013.89L239.20 1013.89Z" fill="#DF3228" stroke="#F39A9C" stroke-width="1.9"/>
<path d="M257.21 1023.00L261.51 1014.80L252.91 1014.80Z" fill="#DF3228" stroke="#F39A9C" stroke-width="1.9"/>
<path d="M270.92 1022.09L275.22 1013.89L266.62 1013.89Z" fill="#DF3228" stroke="#F39A9C" stroke-width="1.9"/>
<path d="M284.63 1020.87L288.93 1012.67L280.33 1012.67Z" fill="#DF3228" stroke="#F39A9C" stroke-width="1.9"/>
<path d="M298.34 1021.17L302.64 1012.97L294.04 1012.97Z" fill="#DF3228" stroke="#F39A9C" stroke-width="1.9"/>
<path d="M312.05 1020.57L316.35 1012.37L307.75 1012.37Z" fill="#DF3228" stroke="#F39A9C" stroke-width="1.9"/>
<path d="M325.76 1019.35L330.06 1011.15L321.46 1011.15Z" fill="#DF3228" stroke="#F39A9C" stroke-width="1.9"/>
<path d="M339.47 1018.13L343.77 1009.93L335.17 1009.93Z" fill="#DF3228" stroke="#F39A9C" stroke-width="1.9"/>
<path d="M353.18 1015.69L357.48 1007.49L348.88 1007.49Z" fill="#DF3228" stroke="#F39A9C" stroke-width="1.9"/>
<path d="M366.89 1014.78L371.19 1006.58L362.59 1006.58Z" fill="#DF3228" stroke="#F39A9C" stroke-width="1.9"/>
<path d="M380.60 1009.90L384.90 1001.70L376.30 1001.70Z" fill="#DF3228" stroke="#F39A9C" stroke-width="1.9"/>
<path d="M394.31 1005.03L398.61 996.83L390.01 996.83Z" fill="#DF3228" stroke="#F39A9C" stroke-width="1.9"/>
<path d="M408.02 996.19L412.32 987.99L403.72 987.99Z" fill="#DF3228" stroke="#F39A9C" stroke-width="1.9"/>
<path d="M421.73 971.21L426.03 963.01L417.43 963.01Z" fill="#DF3228" stroke="#F39A9C" stroke-width="1.9"/>
<path d="M435.44 936.48L439.74 928.28L431.14 928.28Z" fill="#DF3228" stroke="#F39A9C" stroke-width="1.9"/>
<path d="M449.15 890.47L453.45 882.27L444.85 882.27Z" fill="#DF3228" stroke="#F39A9C" stroke-width="1.9"/>
<path d="M462.86 840.20L467.16 832.00L458.56 832.00Z" fill="#DF3228" stroke="#F39A9C" stroke-width="1.9"/>
<path d="M476.57 799.38L480.87 791.18L472.27 791.18Z" fill="#DF3228" stroke="#F39A9C" stroke-width="1.9"/>
<path d="M490.28 770.43L494.58 762.23L485.98 762.23Z" fill="#DF3228" stroke="#F39A9C" stroke-width="1.9"/>
<path d="M503.99 746.06L508.29 737.86L499.69 737.86Z" fill="#DF3228" stroke="#F39A9C" stroke-width="1.9"/>
<path d="M517.70 727.48L522.00 719.28L513.40 719.28Z" fill="#DF3228" stroke="#F39A9C" stroke-width="1.9"/>
<path d="M531.41 713.77L535.71 705.57L527.11 705.57Z" fill="#DF3228" stroke="#F39A9C" stroke-width="1.9"/>
<path d="M545.12 704.63L549.42 696.43L540.82 696.43Z" fill="#DF3228" stroke="#F39A9C" stroke-width="1.9"/>
<path d="M558.83 700.06L563.13 691.86L554.53 691.86Z" fill="#DF3228" stroke="#F39A9C" stroke-width="1.9"/>
<path d="M572.54 697.31L576.84 689.11L568.24 689.11Z" fill="#DF3228" stroke="#F39A9C" stroke-width="1.9"/>
<path d="M586.25 696.70L590.55 688.50L581.95 688.50Z" fill="#DF3228" stroke="#F39A9C" stroke-width="1.9"/>
<polyline points="106.40,1044.43 120.11,1026.76 133.82,1017.93 147.53,1018.54 161.24,1017.62 174.95,1016.71 188.66,1016.10 202.37,1017.32 216.08,1017.32 229.79,1021.28 243.50,1017.32 257.21,1018.23 270.92,1018.23 284.63,1016.10 298.34,1016.71 312.05,1016.10 325.76,1014.58 339.47,1013.05 353.18,1009.40 366.89,1003.00 380.60,991.12 394.31,964.61 408.02,927.75 421.73,867.42 435.44,814.71 449.15,777.55 462.86,752.87 476.57,729.71 490.28,709.30 503.99,695.29 517.70,687.67 531.41,682.18 545.12,680.36 558.83,678.83 572.54,677.92 586.25,677.92" fill="none" stroke="#EB6526" stroke-width="2.3" stroke-linejoin="round"/>
<rect x="102.04" y="1040.07" width="8.72" height="8.72" fill="#EB6526" stroke="#F8AE86" stroke-width="2.4"/>
<rect x="115.75" y="1022.40" width="8.72" height="8.72" fill="#EB6526" stroke="#F8AE86" stroke-width="2.4"/>
<rect x="129.46" y="1013.57" width="8.72" height="8.72" fill="#EB6526" stroke="#F8AE86" stroke-width="2.4"/>
<rect x="143.17" y="1014.18" width="8.72" height="8.72" fill="#EB6526" stroke="#F8AE86" stroke-width="2.4"/>
<rect x="156.88" y="1013.26" width="8.72" height="8.72" fill="#EB6526" stroke="#F8AE86" stroke-width="2.4"/>
<rect x="170.59" y="1012.35" width="8.72" height="8.72" fill="#EB6526" stroke="#F8AE86" stroke-width="2.4"/>
<rect x="184.30" y="1011.74" width="8.72" height="8.72" fill="#EB6526" stroke="#F8AE86" stroke-width="2.4"/>
<rect x="198.01" y="1012.96" width="8.72" height="8.72" fill="#EB6526" stroke="#F8AE86" stroke-width="2.4"/>
<rect x="211.72" y="1012.96" width="8.72" height="8.72" fill="#EB6526" stroke="#F8AE86" stroke-width="2.4"/>
<rect x="225.43" y="1016.92" width="8.72" height="8.72" fill="#EB6526" stroke="#F8AE86" stroke-width="2.4"/>
<rect x="239.14" y="1012.96" width="8.72" height="8.72" fill="#EB6526" stroke="#F8AE86" stroke-width="2.4"/>
<rect x="252.85" y="1013.87" width="8.72" height="8.72" fill="#EB6526" stroke="#F8AE86" stroke-width="2.4"/>
<rect x="266.56" y="1013.87" width="8.72" height="8.72" fill="#EB6526" stroke="#F8AE86" stroke-width="2.4"/>
<rect x="280.27" y="1011.74" width="8.72" height="8.72" fill="#EB6526" stroke="#F8AE86" stroke-width="2.4"/>
<rect x="293.98" y="1012.35" width="8.72" height="8.72" fill="#EB6526" stroke="#F8AE86" stroke-width="2.4"/>
<rect x="307.69" y="1011.74" width="8.72" height="8.72" fill="#EB6526" stroke="#F8AE86" stroke-width="2.4"/>
<rect x="321.40" y="1010.22" width="8.72" height="8.72" fill="#EB6526" stroke="#F8AE86" stroke-width="2.4"/>
<rect x="335.11" y="1008.69" width="8.72" height="8.72" fill="#EB6526" stroke="#F8AE86" stroke-width="2.4"/>
<rect x="348.82" y="1005.04" width="8.72" height="8.72" fill="#EB6526" stroke="#F8AE86" stroke-width="2.4"/>
<rect x="362.53" y="998.64" width="8.72" height="8.72" fill="#EB6526" stroke="#F8AE86" stroke-width="2.4"/>
<rect x="376.24" y="986.76" width="8.72" height="8.72" fill="#EB6526" stroke="#F8AE86" stroke-width="2.4"/>
<rect x="389.95" y="960.25" width="8.72" height="8.72" fill="#EB6526" stroke="#F8AE86" stroke-width="2.4"/>
<rect x="403.66" y="923.39" width="8.72" height="8.72" fill="#EB6526" stroke="#F8AE86" stroke-width="2.4"/>
<rect x="417.37" y="863.06" width="8.72" height="8.72" fill="#EB6526" stroke="#F8AE86" stroke-width="2.4"/>
<rect x="431.08" y="810.35" width="8.72" height="8.72" fill="#EB6526" stroke="#F8AE86" stroke-width="2.4"/>
<rect x="444.79" y="773.19" width="8.72" height="8.72" fill="#EB6526" stroke="#F8AE86" stroke-width="2.4"/>
<rect x="458.50" y="748.51" width="8.72" height="8.72" fill="#EB6526" stroke="#F8AE86" stroke-width="2.4"/>
<rect x="472.21" y="725.35" width="8.72" height="8.72" fill="#EB6526" stroke="#F8AE86" stroke-width="2.4"/>
<rect x="485.92" y="704.94" width="8.72" height="8.72" fill="#EB6526" stroke="#F8AE86" stroke-width="2.4"/>
<rect x="499.63" y="690.93" width="8.72" height="8.72" fill="#EB6526" stroke="#F8AE86" stroke-width="2.4"/>
<rect x="513.34" y="683.31" width="8.72" height="8.72" fill="#EB6526" stroke="#F8AE86" stroke-width="2.4"/>
<rect x="527.05" y="677.82" width="8.72" height="8.72" fill="#EB6526" stroke="#F8AE86" stroke-width="2.4"/>
<rect x="540.76" y="676.00" width="8.72" height="8.72" fill="#EB6526" stroke="#F8AE86" stroke-width="2.4"/>
<rect x="554.47" y="674.47" width="8.72" height="8.72" fill="#EB6526" stroke="#F8AE86" stroke-width="2.4"/>
<rect x="568.18" y="673.56" width="8.72" height="8.72" fill="#EB6526" stroke="#F8AE86" stroke-width="2.4"/>
<rect x="581.89" y="673.56" width="8.72" height="8.72" fill="#EB6526" stroke="#F8AE86" stroke-width="2.4"/>
<polyline points="106.40,1039.25 120.11,1016.71 133.82,1009.70 147.53,1010.31 161.24,1009.70 174.95,1010.01 188.66,1008.48 202.37,1010.92 216.08,1008.79 229.79,1013.05 243.50,1009.09 257.21,1009.09 270.92,1009.09 284.63,1006.96 298.34,1005.74 312.05,1000.87 325.76,995.69 339.47,984.11 353.18,967.35 366.89,938.71 380.60,899.72 394.31,857.06 408.02,822.64 421.73,781.20 435.44,751.65 449.15,729.10 462.86,713.26 476.57,699.25 490.28,692.54 503.99,686.45 517.70,683.40 531.41,682.79 545.12,682.49 558.83,682.49 572.54,682.18 586.25,682.18" fill="none" stroke="#3A64AE" stroke-width="2.3" stroke-linejoin="round"/>
<path d="M106.40 1034.65L111.00 1039.25L106.40 1043.85L101.80 1039.25Z" fill="#3A64AE"/>
<path d="M120.11 1012.11L124.71 1016.71L120.11 1021.31L115.51 1016.71Z" fill="#3A64AE"/>
<path d="M133.82 1005.10L138.42 1009.70L133.82 1014.30L129.22 1009.70Z" fill="#3A64AE"/>
<path d="M147.53 1005.71L152.13 1010.31L147.53 1014.91L142.93 1010.31Z" fill="#3A64AE"/>
<path d="M161.24 1005.10L165.84 1009.70L161.24 1014.30L156.64 1009.70Z" fill="#3A64AE"/>
<path d="M174.95 1005.41L179.55 1010.01L174.95 1014.61L170.35 1010.01Z" fill="#3A64AE"/>
<path d="M188.66 1003.88L193.26 1008.48L188.66 1013.08L184.06 1008.48Z" fill="#3A64AE"/>
<path d="M202.37 1006.32L206.97 1010.92L202.37 1015.52L197.77 1010.92Z" fill="#3A64AE"/>
<path d="M216.08 1004.19L220.68 1008.79L216.08 1013.39L211.48 1008.79Z" fill="#3A64AE"/>
<path d="M229.79 1008.45L234.39 1013.05L229.79 1017.65L225.19 1013.05Z" fill="#3A64AE"/>
<path d="M243.50 1004.49L248.10 1009.09L243.50 1013.69L238.90 1009.09Z" fill="#3A64AE"/>
<path d="M257.21 1004.49L261.81 1009.09L257.21 1013.69L252.61 1009.09Z" fill="#3A64AE"/>
<path d="M270.92 1004.49L275.52 1009.09L270.92 1013.69L266.32 1009.09Z" fill="#3A64AE"/>
<path d="M284.63 1002.36L289.23 1006.96L284.63 1011.56L280.03 1006.96Z" fill="#3A64AE"/>
<path d="M298.34 1001.14L302.94 1005.74L298.34 1010.34L293.74 1005.74Z" fill="#3A64AE"/>
<path d="M312.05 996.27L316.65 1000.87L312.05 1005.47L307.45 1000.87Z" fill="#3A64AE"/>
<path d="M325.76 991.09L330.36 995.69L325.76 1000.29L321.16 995.69Z" fill="#3A64AE"/>
<path d="M339.47 979.51L344.07 984.11L339.47 988.71L334.87 984.11Z" fill="#3A64AE"/>
<path d="M353.18 962.75L357.78 967.35L353.18 971.95L348.58 967.35Z" fill="#3A64AE"/>
<path d="M366.89 934.11L371.49 938.71L366.89 943.31L362.29 938.71Z" fill="#3A64AE"/>
<path d="M380.60 895.12L385.20 899.72L380.60 904.32L376.00 899.72Z" fill="#3A64AE"/>
<path d="M394.31 852.46L398.91 857.06L394.31 861.66L389.71 857.06Z" fill="#3A64AE"/>
<path d="M408.02 818.04L412.62 822.64L408.02 827.24L403.42 822.64Z" fill="#3A64AE"/>
<path d="M421.73 776.60L426.33 781.20L421.73 785.80L417.13 781.20Z" fill="#3A64AE"/>
<path d="M435.44 747.05L440.04 751.65L435.44 756.25L430.84 751.65Z" fill="#3A64AE"/>
<path d="M449.15 724.50L453.75 729.10L449.15 733.70L444.55 729.10Z" fill="#3A64AE"/>
<path d="M462.86 708.66L467.46 713.26L462.86 717.86L458.26 713.26Z" fill="#3A64AE"/>
<path d="M476.57 694.65L481.17 699.25L476.57 703.85L471.97 699.25Z" fill="#3A64AE"/>
<path d="M490.28 687.94L494.88 692.54L490.28 697.14L485.68 692.54Z" fill="#3A64AE"/>
<path d="M503.99 681.85L508.59 686.45L503.99 691.05L499.39 686.45Z" fill="#3A64AE"/>
<path d="M517.70 678.80L522.30 683.40L517.70 688.00L513.10 683.40Z" fill="#3A64AE"/>
<path d="M531.41 678.19L536.01 682.79L531.41 687.39L526.81 682.79Z" fill="#3A64AE"/>
<path d="M545.12 677.89L549.72 682.49L545.12 687.09L540.52 682.49Z" fill="#3A64AE"/>
<path d="M558.83 677.89L563.43 682.49L558.83 687.09L554.23 682.49Z" fill="#3A64AE"/>
<path d="M572.54 677.58L577.14 682.18L572.54 686.78L567.94 682.18Z" fill="#3A64AE"/>
<path d="M586.25 677.58L590.85 682.18L586.25 686.78L581.65 682.18Z" fill="#3A64AE"/>
<polyline points="106.40,1024.93 120.11,1006.05 133.82,996.91 147.53,999.34 161.24,996.91 174.95,996.30 188.66,995.08 202.37,995.99 216.08,993.55 229.79,995.69 243.50,987.77 257.21,982.59 270.92,971.92 284.63,951.51 298.34,919.52 312.05,885.09 325.76,830.86 339.47,787.90 353.18,761.09 366.89,738.24 380.60,718.44 394.31,699.25 408.02,691.02 421.73,683.10 435.44,679.75 449.15,678.83 462.86,679.44 476.57,677.92 490.28,677.31 503.99,677.01 517.70,677.31 531.41,677.31 545.12,677.31 558.83,677.31 572.54,677.92 586.25,678.53" fill="none" stroke="#0A7F8C" stroke-width="2.3" stroke-linejoin="round"/>
<circle cx="106.40" cy="1024.93" r="4.7" fill="#0A7F8C"/>
<circle cx="120.11" cy="1006.05" r="4.7" fill="#0A7F8C"/>
<circle cx="133.82" cy="996.91" r="4.7" fill="#0A7F8C"/>
<circle cx="147.53" cy="999.34" r="4.7" fill="#0A7F8C"/>
<circle cx="161.24" cy="996.91" r="4.7" fill="#0A7F8C"/>
<circle cx="174.95" cy="996.30" r="4.7" fill="#0A7F8C"/>
<circle cx="188.66" cy="995.08" r="4.7" fill="#0A7F8C"/>
<circle cx="202.37" cy="995.99" r="4.7" fill="#0A7F8C"/>
<circle cx="216.08" cy="993.55" r="4.7" fill="#0A7F8C"/>
<circle cx="229.79" cy="995.69" r="4.7" fill="#0A7F8C"/>
<circle cx="243.50" cy="987.77" r="4.7" fill="#0A7F8C"/>
<circle cx="257.21" cy="982.59" r="4.7" fill="#0A7F8C"/>
<circle cx="270.92" cy="971.92" r="4.7" fill="#0A7F8C"/>
<circle cx="284.63" cy="951.51" r="4.7" fill="#0A7F8C"/>
<circle cx="298.34" cy="919.52" r="4.7" fill="#0A7F8C"/>
<circle cx="312.05" cy="885.09" r="4.7" fill="#0A7F8C"/>
<circle cx="325.76" cy="830.86" r="4.7" fill="#0A7F8C"/>
<circle cx="339.47" cy="787.90" r="4.7" fill="#0A7F8C"/>
<circle cx="353.18" cy="761.09" r="4.7" fill="#0A7F8C"/>
<circle cx="366.89" cy="738.24" r="4.7" fill="#0A7F8C"/>
<circle cx="380.60" cy="718.44" r="4.7" fill="#0A7F8C"/>
<circle cx="394.31" cy="699.25" r="4.7" fill="#0A7F8C"/>
<circle cx="408.02" cy="691.02" r="4.7" fill="#0A7F8C"/>
<circle cx="421.73" cy="683.10" r="4.7" fill="#0A7F8C"/>
<circle cx="435.44" cy="679.75" r="4.7" fill="#0A7F8C"/>
<circle cx="449.15" cy="678.83" r="4.7" fill="#0A7F8C"/>
<circle cx="462.86" cy="679.44" r="4.7" fill="#0A7F8C"/>
<circle cx="476.57" cy="677.92" r="4.7" fill="#0A7F8C"/>
<circle cx="490.28" cy="677.31" r="4.7" fill="#0A7F8C"/>
<circle cx="503.99" cy="677.01" r="4.7" fill="#0A7F8C"/>
<circle cx="517.70" cy="677.31" r="4.7" fill="#0A7F8C"/>
<circle cx="531.41" cy="677.31" r="4.7" fill="#0A7F8C"/>
<circle cx="545.12" cy="677.31" r="4.7" fill="#0A7F8C"/>
<circle cx="558.83" cy="677.31" r="4.7" fill="#0A7F8C"/>
<circle cx="572.54" cy="677.92" r="4.7" fill="#0A7F8C"/>
<circle cx="586.25" cy="678.53" r="4.7" fill="#0A7F8C"/>
<polyline points="106.40,1025.85 120.11,998.73 133.82,987.77 147.53,988.37 161.24,986.85 174.95,985.94 188.66,983.20 202.37,982.28 216.08,973.14 229.79,964.00 243.50,938.41 257.21,909.47 270.92,867.73 284.63,828.12 298.34,791.86 312.05,759.87 325.76,737.02 339.47,717.83 353.18,703.21 366.89,693.76 380.60,689.19 394.31,686.75 408.02,690.11 421.73,685.54 435.44,684.93 449.15,685.54 462.86,686.15 476.57,685.54 490.28,685.84 503.99,685.84 517.70,685.84 531.41,685.84 545.12,685.84 558.83,685.84 572.54,685.84 586.25,685.84" fill="none" stroke="#40296E" stroke-width="2.3" stroke-linejoin="round"/>
<path d="M106.40 1021.45L111.00 1030.25L101.80 1030.25Z" fill="#40296E"/>
<path d="M120.11 994.33L124.71 1003.13L115.51 1003.13Z" fill="#40296E"/>
<path d="M133.82 983.37L138.42 992.17L129.22 992.17Z" fill="#40296E"/>
<path d="M147.53 983.97L152.13 992.77L142.93 992.77Z" fill="#40296E"/>
<path d="M161.24 982.45L165.84 991.25L156.64 991.25Z" fill="#40296E"/>
<path d="M174.95 981.54L179.55 990.34L170.35 990.34Z" fill="#40296E"/>
<path d="M188.66 978.80L193.26 987.60L184.06 987.60Z" fill="#40296E"/>
<path d="M202.37 977.88L206.97 986.68L197.77 986.68Z" fill="#40296E"/>
<path d="M216.08 968.74L220.68 977.54L211.48 977.54Z" fill="#40296E"/>
<path d="M229.79 959.60L234.39 968.40L225.19 968.40Z" fill="#40296E"/>
<path d="M243.50 934.01L248.10 942.81L238.90 942.81Z" fill="#40296E"/>
<path d="M257.21 905.07L261.81 913.87L252.61 913.87Z" fill="#40296E"/>
<path d="M270.92 863.33L275.52 872.13L266.32 872.13Z" fill="#40296E"/>
<path d="M284.63 823.72L289.23 832.52L280.03 832.52Z" fill="#40296E"/>
<path d="M298.34 787.46L302.94 796.26L293.74 796.26Z" fill="#40296E"/>
<path d="M312.05 755.47L316.65 764.27L307.45 764.27Z" fill="#40296E"/>
<path d="M325.76 732.62L330.36 741.42L321.16 741.42Z" fill="#40296E"/>
<path d="M339.47 713.43L344.07 722.23L334.87 722.23Z" fill="#40296E"/>
<path d="M353.18 698.81L357.78 707.61L348.58 707.61Z" fill="#40296E"/>
<path d="M366.89 689.36L371.49 698.16L362.29 698.16Z" fill="#40296E"/>
<path d="M380.60 684.79L385.20 693.59L376.00 693.59Z" fill="#40296E"/>
<path d="M394.31 682.35L398.91 691.15L389.71 691.15Z" fill="#40296E"/>
<path d="M408.02 685.71L412.62 694.51L403.42 694.51Z" fill="#40296E"/>
<path d="M421.73 681.14L426.33 689.94L417.13 689.94Z" fill="#40296E"/>
<path d="M435.44 680.53L440.04 689.33L430.84 689.33Z" fill="#40296E"/>
<path d="M449.15 681.14L453.75 689.94L444.55 689.94Z" fill="#40296E"/>
<path d="M462.86 681.75L467.46 690.55L458.26 690.55Z" fill="#40296E"/>
<path d="M476.57 681.14L481.17 689.94L471.97 689.94Z" fill="#40296E"/>
<path d="M490.28 681.44L494.88 690.24L485.68 690.24Z" fill="#40296E"/>
<path d="M503.99 681.44L508.59 690.24L499.39 690.24Z" fill="#40296E"/>
<path d="M517.70 681.44L522.30 690.24L513.10 690.24Z" fill="#40296E"/>
<path d="M531.41 681.44L536.01 690.24L526.81 690.24Z" fill="#40296E"/>
<path d="M545.12 681.44L549.72 690.24L540.52 690.24Z" fill="#40296E"/>
<path d="M558.83 681.44L563.43 690.24L554.23 690.24Z" fill="#40296E"/>
<path d="M572.54 681.44L577.14 690.24L567.94 690.24Z" fill="#40296E"/>
<path d="M586.25 681.44L590.85 690.24L581.65 690.24Z" fill="#40296E"/>
</g>
</svg></body></html>
